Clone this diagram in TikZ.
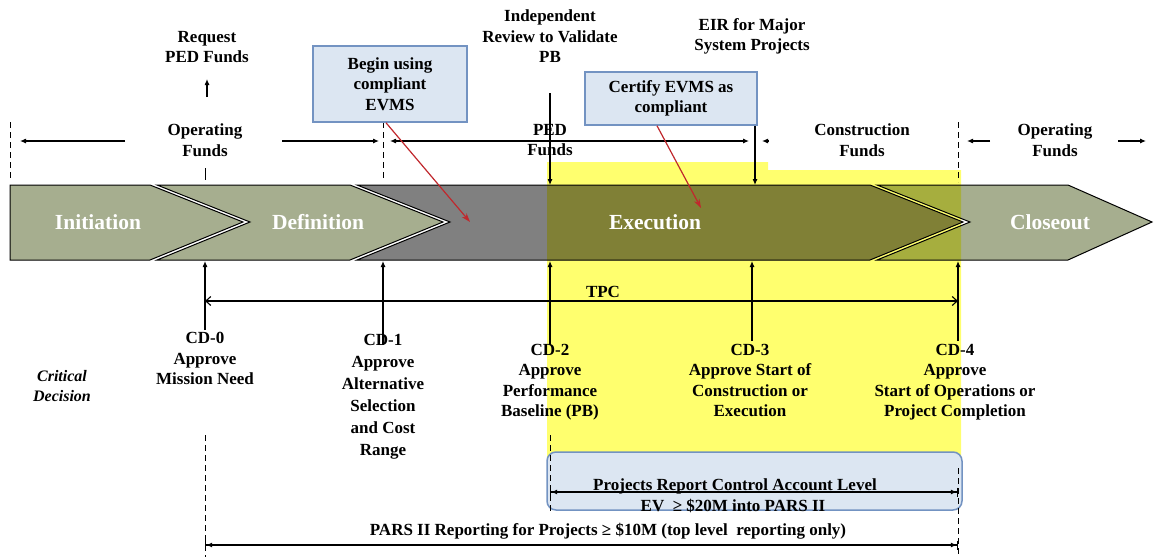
\documentclass[tikz,border=0pt]{standalone}
\usepackage{fontspec}
\setmainfont{Liberation Serif}
\usetikzlibrary{arrows.meta}
\definecolor{chgreen}{HTML}{A6AE8F}
\definecolor{chgray}{HTML}{808080}
\definecolor{hlyellow}{HTML}{FFFF6E}
\definecolor{ovgreen}{HTML}{A6AE3E}
\definecolor{ovgray}{HTML}{808036}
\definecolor{boxblue}{HTML}{DCE6F2}
\definecolor{boxedge}{HTML}{7393C2}
\definecolor{redarr}{HTML}{C0282D}
\newcommand{\chevInit}[1]{\path[#1] (10,185) -- (150,185) -- (243,222) -- (150,260) -- (10,260) -- cycle;}
\newcommand{\chevDef}[1]{\path[#1] (157,185) -- (350,185) -- (443,222) -- (350,260) -- (157,260) -- (250,222) -- cycle;}
\newcommand{\chevExec}[1]{\path[#1] (357,185) -- (870,185) -- (963,222) -- (870,260) -- (357,260) -- (450,222) -- cycle;}
\newcommand{\chevClose}[1]{\path[#1] (877,185) -- (1068,185) -- (1152,222) -- (1068,260) -- (877,260) -- (970,222) -- cycle;}
\newcommand{\yelRegion}{(547,162) -- (768,162) -- (768,170) -- (961,170) -- (961,470) -- (547,470) -- cycle}
\begin{document}
\begin{tikzpicture}[x=1pt,y=-1pt,
  txt/.style={font=\fontsize{17}{20.5}\selectfont\bfseries, align=center, inner sep=0pt, anchor=north},
  phase/.style={font=\fontsize{21.5}{24}\selectfont\bfseries, text=white, inner sep=0pt},
  outl/.style={draw=black, line width=1pt, line join=miter},
  arr/.style={line width=1.1pt, -{Latex[length=6pt,width=5pt]}},
  dash line/.style={line width=1pt, dash pattern=on 6pt off 4pt},
  callout/.style={draw=boxedge, line width=1.5pt, fill=boxblue, inner sep=0pt},
  redline/.style={draw=redarr, line width=1.2pt, -{Stealth[length=9pt,width=6pt]}},
  bartips/.style={line width=1.1pt, {Bar[width=9pt]Latex[length=6pt,width=5pt]}-{Latex[length=6pt,width=5pt]Bar[width=9pt]}}
]
\useasboundingbox (0,0) rectangle (1156,557);

% yellow highlight
\fill[hlyellow] \yelRegion;

% chevrons fills
\chevInit{fill=chgreen}
\chevDef{fill=chgreen}
\chevExec{fill=chgray}
\chevClose{fill=chgreen}
\begin{scope}
  \clip \yelRegion;
  \chevExec{fill=ovgray}
  \chevClose{fill=ovgreen}
\end{scope}
\chevInit{outl}
\chevDef{outl}
\chevExec{outl}
\chevClose{outl}

\node[phase] (init) at (98,222) {Initiation};
\node[phase] (defn) at (318,222) {Definition};
\node[phase] (exec) at (655,222) {Execution};
\node[phase] (close) at (1050,222) {Closeout};

% ---- top texts
\node[txt] (req) at (207,31) {Request\\PED Funds};
\node[txt] (irv) at (550,10) {Independent\\Review to Validate\\PB};
\node[txt] (eir) at (752,18) {EIR for Major\\System Projects};
\node[txt] (opl) at (205,124) {Operating\\Funds};
\node[txt] (ped) at (550,124) {PED\\Funds};
\node[txt] (con) at (862,124) {Construction\\Funds};
\node[txt] (opr) at (1055,124) {Operating\\Funds};

% funding arrows
\coordinate (opl1) at (125,141); \coordinate (opl2) at (20,141);
\coordinate (opl3) at (282,141); \coordinate (opl4) at (379,141);
\draw[arr] (opl1) -- (opl2);
\draw[arr] (opl3) -- (opl4);
\coordinate (ped1) at (390,141); \coordinate (ped2) at (749,141);
\draw[arr,{Latex[length=6pt,width=5pt]}-{Latex[length=6pt,width=5pt]}] (ped1) -- (ped2);
\coordinate (con1) at (769,141); \coordinate (con2) at (762,141);
\draw[arr] (con1) -- (con2);
\coordinate (opr1) at (990,141); \coordinate (opr2) at (967,141);
\coordinate (opr3) at (1118,141); \coordinate (opr4) at (1146,141);
\draw[arr] (opr1) -- (opr2);
\draw[arr] (opr3) -- (opr4);

% dashed phase boundaries (top)
\coordinate (d0a) at (10,122); \coordinate (d0b) at (10,180);
\coordinate (d1a) at (383,122); \coordinate (d1b) at (383,180);
\coordinate (d4a) at (958,122); \coordinate (d4b) at (958,182);
\draw[dash line] (d0a) -- (d0b);
\draw[dash line] (d1a) -- (d1b);
\draw[dash line] (d4a) -- (d4b);

% top vertical arrows
\coordinate (reqa) at (207,97); \coordinate (reqb) at (207,79);
\draw[arr] (reqa) -- (reqb);
\coordinate (opt1) at (205,168); \coordinate (opt2) at (205,180);
\draw[line width=1pt] (opt1) -- (opt2);
\coordinate (irva) at (550,93); \coordinate (irvb) at (550,185);
\draw[arr] (irva) -- (irvb);
\coordinate (eira) at (755,92); \coordinate (eirb) at (755,185);
\draw[arr] (eira) -- (eirb);

% callouts
\node[callout, minimum width=154pt, minimum height=76pt] (begin) at (390,84) {};
\node[txt, anchor=center] (begintxt) at (390,84) {Begin using\\compliant\\EVMS};
\node[callout, minimum width=172pt, minimum height=53pt] (cert) at (671,98.5) {};
\node[txt, anchor=center] (certtxt) at (671,98.5) {Certify EVMS as\\compliant};
\coordinate (begintip) at (470,222);
\coordinate (certtip) at (701,208);
\draw[redline] (begin.south -| 386,0) -- (begintip);
\draw[redline] (cert.south -| 657,0) -- (certtip);

% below-bar CD arrows
\coordinate (cd0a) at (205,330); \coordinate (cd0b) at (205,261);
\coordinate (cd1a) at (383,345); \coordinate (cd1b) at (383,261);
\coordinate (cd2a) at (550,345); \coordinate (cd2b) at (550,261);
\coordinate (cd3a) at (752,341); \coordinate (cd3b) at (752,261);
\coordinate (cd4a) at (958,341); \coordinate (cd4b) at (958,261);
\foreach \p in {cd0,cd1,cd2,cd3,cd4} \draw[arr] (\p a) -- (\p b);

% TPC
\coordinate (tpca) at (205,301); \coordinate (tpcb) at (958,301);
\draw[line width=1.1pt, {Straight Barb[length=5pt,width=9pt]}-{Straight Barb[length=5pt,width=9pt]}] (tpca) -- (tpcb);
\node[txt, anchor=south] (tpc) at (603,298) {TPC};

% CD texts
\node[txt, font=\fontsize{16}{20.5}\selectfont\bfseries\itshape] (crit) at (62,370) {Critical\\Decision};
\node[txt] (cd0) at (205,332) {CD-0\\Approve\\Mission Need};
\node[txt, font=\fontsize{17}{22}\selectfont\bfseries] (cd1) at (383,334) {CD-1\\Approve\\Alternative\\Selection\\and Cost\\Range};
\node[txt] (cd2) at (550,344) {CD-2\\Approve\\Performance\\Baseline (PB)};
\node[txt] (cd3) at (750,344) {CD-3\\Approve Start of\\Construction or\\Execution};
\node[txt] (cd4) at (955,344) {CD-4\\Approve\\Start of Operations or\\Project Completion};

% blue reporting box
\node[draw=boxedge, line width=1.5pt, fill=boxblue, rounded corners=9pt, minimum width=415pt, minimum height=58pt, inner sep=0pt] (rep) at (754.5,481) {};
\coordinate (d2a) at (550,435); \coordinate (d2b) at (550,512);
\draw[dash line] (d2a) -- (d2b);
\coordinate (rpa) at (550,492); \coordinate (rpb) at (958,492);
\draw[bartips] (rpa) -- (rpb);
\node[txt, anchor=base] (reptxt) at (735,490) {Projects Report Control Account Level};
\node[txt, anchor=base] (evtxt) at (733,511) {EV \ ≥ \$20M into PARS II};

% PARS II
\coordinate (pd0a) at (205,435); \coordinate (pd0b) at (205,557);
\coordinate (pd4a) at (958,468); \coordinate (pd4b) at (958,557);
\draw[dash line] (pd0a) -- (pd0b);
\draw[dash line] (pd4a) -- (pd4b);
\coordinate (parsa) at (205,545); \coordinate (parsb) at (958,545);
\draw[bartips] (parsa) -- (parsb);
\node[txt, anchor=base] (parstxt) at (608,535) {PARS II Reporting for Projects ≥ \$10M (top level\ \ reporting only)};
\end{tikzpicture}
\end{document}
